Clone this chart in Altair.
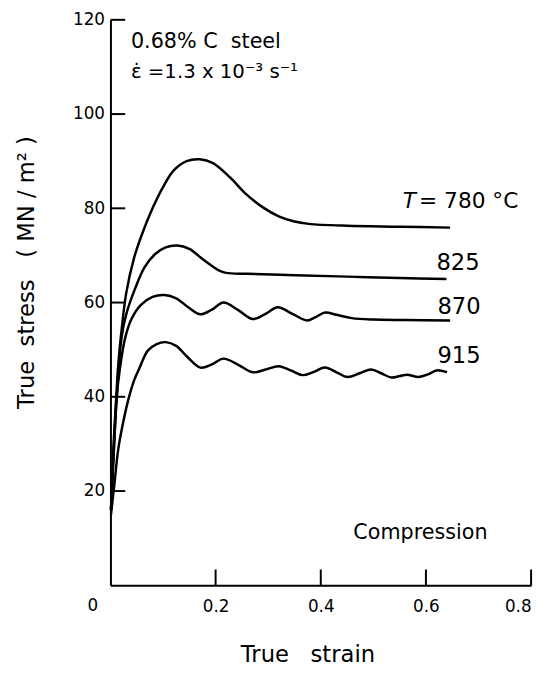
import altair as alt
import pandas as pd

# ---- data ----
temperatures = ["780", "825", "870", "915"]

strain_780 = [0.001, 0.006, 0.010, 0.015, 0.022, 0.030, 0.045, 0.060, 0.080, 0.100, 0.120, 0.145,
              0.170, 0.195, 0.227, 0.258, 0.290, 0.320, 0.350, 0.377, 0.450, 0.550, 0.646]
stress_780 = [16, 30, 38, 47, 55, 62, 69.5, 74.5, 80, 84.5, 88, 90,
              90.4, 89.6, 86.6, 83.0, 80.2, 78.3, 77.2, 76.7, 76.3, 76.1, 75.9]

strain_825 = [0.001, 0.007, 0.012, 0.021, 0.030, 0.047, 0.065, 0.084, 0.105, 0.127, 0.150, 0.171,
              0.190, 0.205, 0.220, 0.260, 0.352, 0.450, 0.550, 0.639]
stress_825 = [16, 30, 40, 52.5, 57.5, 63, 67.5, 70.2, 71.7, 72.1, 71.4, 69.6,
              68.0, 66.9, 66.3, 66.1, 65.8, 65.5, 65.2, 65.0]

strain_870 = [0.001, 0.007, 0.012, 0.018, 0.028, 0.040, 0.058, 0.080, 0.103, 0.125, 0.148, 0.171,
              0.193, 0.215, 0.243, 0.271, 0.295, 0.318, 0.346, 0.374, 0.390, 0.408, 0.430, 0.459,
              0.500, 0.560, 0.646]
stress_870 = [16, 30, 40, 46, 52.5, 56.5, 59.5, 61.2, 61.6, 60.9, 59.0, 57.5,
              58.5, 60.0, 58.4, 56.5, 57.6, 59.0, 57.6, 56.2, 56.9, 57.9, 57.4, 56.7,
              56.4, 56.3, 56.2]

strain_915 = [0.001, 0.008, 0.015, 0.025, 0.034, 0.045, 0.056, 0.071, 0.088, 0.105, 0.125, 0.145,
              0.171, 0.193, 0.215, 0.243, 0.271, 0.295, 0.320, 0.343, 0.365, 0.387, 0.408, 0.430,
              0.451, 0.474, 0.496, 0.515, 0.534, 0.550, 0.564, 0.586, 0.605, 0.620, 0.640]
stress_915 = [15, 22, 29, 35, 39.4, 43.5, 46.3, 49.8, 51.2, 51.6, 50.8, 48.6,
              46.2, 46.9, 48.1, 46.8, 45.2, 45.8, 46.5, 45.6, 44.6, 45.3, 46.2, 45.2,
              44.2, 45.0, 45.8, 45.0, 44.1, 44.4, 44.7, 44.2, 44.8, 45.6, 45.2]

x_tick_values = [0.2, 0.4, 0.6, 0.8]
y_tick_values = [20, 40, 60, 80, 100, 120]

series_labels = ["825", "870", "915"]
series_label_x = [0.661, 0.663, 0.663]
series_label_y = [66.9, 57.5, 47.1]

# ---- build table ----
rows = []
for t, xs, ys in zip(temperatures,
                     [strain_780, strain_825, strain_870, strain_915],
                     [stress_780, stress_825, stress_870, stress_915]):
    for xv, yv in zip(xs, ys):
        rows.append({"T": t, "strain": xv, "stress": yv})
df = pd.DataFrame(rows)

W, H = 427, 574
FONT = "DejaVu Sans"
NB = "\u00a0"
xscale = alt.Scale(domain=[0, 0.8], nice=False, zero=False)
yscale = alt.Scale(domain=[0, 120], nice=False, zero=False)

x_axis = alt.Axis(values=x_tick_values, format=".1f", title="True" + NB * 3 + "strain", ticks=False, tickSize=0,
                  grid=False, labelPadding=14, labelFontSize=17, labelFont=FONT, labelColor="black",
                  labelFlush=True, labelOverlap=False,
                  titleFont=FONT, titleFontSize=23, titleFontWeight="normal", titleColor="black",
                  titleX=200, titleY=77, titleBaseline="alphabetic", titleAlign="center",
                  domainColor="black", domainWidth=2)
y_title = "True" + NB * 2 + "stress" + NB * 3 + "(" + NB + "MN" + NB + "/" + NB + "m²" + NB + ")"
y_axis = alt.Axis(values=y_tick_values, title=y_title, ticks=False, tickSize=0,
                  grid=False, labelPadding=6, labelFontSize=17, labelFont=FONT, labelColor="black",
                  labelFlush=False, labelOverlap=False,
                  titleFont=FONT, titleFontSize=23, titleFontWeight="normal", titleColor="black",
                  titleAngle=270, titleX=-78, titleY=256, titleBaseline="alphabetic", titleAlign="center",
                  domainColor="black", domainWidth=2)


def X(field):
    return alt.X(field, scale=xscale, axis=x_axis)


def Y(field):
    return alt.Y(field, scale=yscale, axis=y_axis)


lines = alt.Chart(df).mark_line(color="black", strokeWidth=2.5, interpolate="catmull-rom").encode(
    x=X("strain:Q"), y=Y("stress:Q"), detail="T:N")

ytick = alt.Chart(pd.DataFrame({"v": y_tick_values})).mark_rule(color="black", strokeWidth=2).encode(
    y=Y("v:Q"), x=alt.value(0), x2=alt.value(15))
xtick = alt.Chart(pd.DataFrame({"v": x_tick_values})).mark_rule(color="black", strokeWidth=2).encode(
    x=X("v:Q"), y=alt.value(H - 16), y2=alt.value(H))

zero_label = alt.Chart(pd.DataFrame({"v": [0]})).mark_text(
    font=FONT, fontSize=17, color="black", dx=-18, baseline="middle").encode(
    x=X("v:Q"), y=alt.value(H + 21), text=alt.Text("v:Q"))

lab_df = pd.DataFrame({"label": series_labels, "x": series_label_x, "y": series_label_y})
labels = alt.Chart(lab_df).mark_text(font=FONT, fontSize=23, color="black", align="center",
                                     baseline="alphabetic").encode(
    x=X("x:Q"), y=Y("y:Q"), text="label:N")


def ann(text, xv, yv, size, style="normal"):
    return alt.Chart(pd.DataFrame({"a": [0]})).mark_text(
        text=text, font=FONT, fontSize=size, fontStyle=style, color="black",
        align="left", baseline="alphabetic").encode(
        x=alt.datum(xv, scale=xscale, axis=x_axis), y=alt.datum(yv, scale=yscale, axis=y_axis))


t_italic = ann("T", 0.556, 80.0, 22, "italic")
t_rest = ann("= 780 °C", 0.587, 80.0, 22)
compression = ann("Compression", 0.462, 9.8, 21)
steel = ann("0.68%" + NB + "C" + NB * 2 + "steel", 0.039, 114.0, 21)
rate = ann("ε̇ =1.3 x 10⁻³ s⁻¹", 0.039, 107.7, 20)

chart = alt.layer(lines, ytick, xtick, zero_label, labels, t_italic, t_rest, compression, steel, rate).properties(
    width=W, height=H,
    padding={"left": 104, "top": 7, "right": 6, "bottom": 82},
    autosize=alt.AutoSizeParams(type="none"),
    background="white",
).configure_view(stroke=None)

chart.save("out.html", embed_options={"renderer": "svg", "actions": False})
